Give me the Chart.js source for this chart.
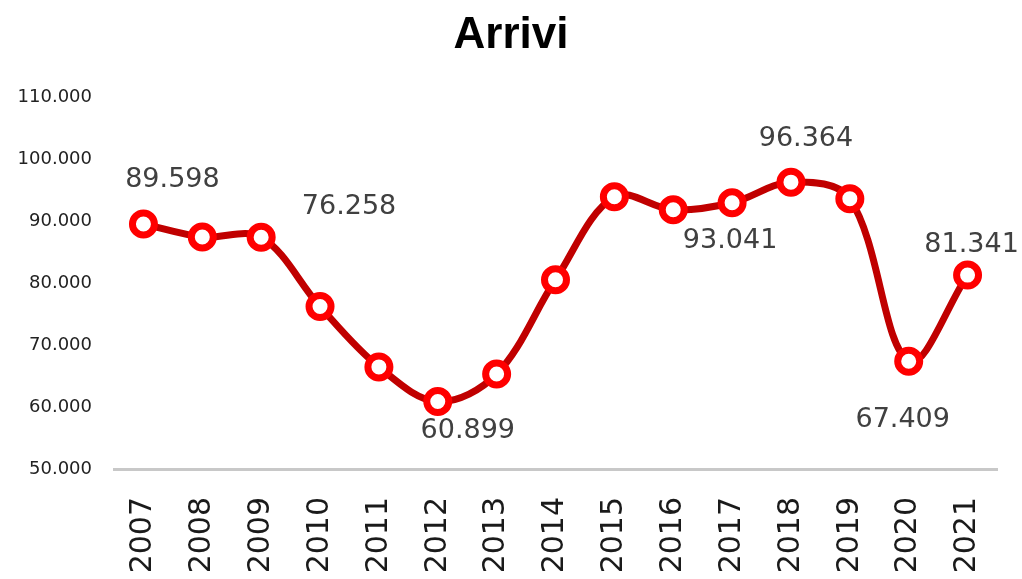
<!DOCTYPE html>
<html lang="it">
<head>
<meta charset="utf-8">
<title>Arrivi</title>
<script src="https://cdn.jsdelivr.net/npm/chart.js@4/dist/chart.umd.min.js"></script>
<style>
    html, body { margin: 0; padding: 0; background: #ffffff; }
    #contenitore { width: 1022px; height: 579px; position: relative; }
</style>
</head>
<body>
<div id="contenitore">
    <canvas id="chartArrivi"></canvas>
</div>
<script>
// Dati del grafico: arrivi per anno
var anni = ['2007', '2008', '2009', '2010', '2011', '2012', '2013', '2014',
            '2015', '2016', '2017', '2018', '2019', '2020', '2021'];
var arrivi = [89598, 87500, 87450, 76258, 66500, 60899, 65350, 80600,
              94000, 91900, 93041, 96364, 93700, 67409, 81341];

// Anni con l'etichetta del valore visibile
var anniEtichettati = ['2007', '2010', '2012', '2017', '2018', '2020', '2021'];

// Tacche asse Y
var yMin = 50000;
var yMax = 110000;
var yPasso = 10000;

// Spostamento delle etichette rispetto al punto (px)
var posEtichette = {
    '2007': [29, -44],
    '2010': [29, -100],
    '2012': [30, 29],
    '2017': [-2, 38],
    '2018': [15, -43],
    '2020': [-6, 59],
    '2021': [4, -30]
};

/**
 * Formatta un numero con il punto delle migliaia
 * @param {number} n
 */
function formatoMigliaia(n) {
    return Math.round(n).toString().replace(/\B(?=(\d{3})+(?!\d))/g, '.');
}

// Plugin per disegnare le etichette dei valori
var pluginEtichette = {
    id: 'etichetteValori',
    afterDatasetsDraw: function(chart) {
        var ctx = chart.ctx;
        var meta = chart.getDatasetMeta(0);
        ctx.save();
        ctx.font = '27px "DejaVu Sans"';
        ctx.fillStyle = '#404040';
        ctx.textAlign = 'center';
        ctx.textBaseline = 'middle';
        anni.forEach(function(anno, i) {
            if (anniEtichettati.indexOf(anno) === -1) return;
            var p = meta.data[i];
            var off = posEtichette[anno] || [0, -30];
            ctx.fillText(formatoMigliaia(arrivi[i]), p.x + off[0], p.y + off[1]);
        });
        ctx.restore();
    }
};

const ctxArrivi = document.getElementById('chartArrivi');
new Chart(ctxArrivi, {
    type: 'line',
    data: {
        labels: anni,
        datasets: [{
            label: 'Arrivi',
            data: arrivi,
            yAxisID: 'y',
            borderColor: '#c00000',
            borderWidth: 7,
            tension: 0.35,
            fill: false,
            pointRadius: 11,
            pointHoverRadius: 11,
            pointBorderWidth: 7,
            pointBorderColor: '#ff0000',
            pointBackgroundColor: '#ffffff'
        }]
    },
    options: {
        responsive: true,
        maintainAspectRatio: false,
        animation: false,
        layout: {
            padding: { left: 0, right: 0, top: 0, bottom: 0 }
        },
        plugins: {
            legend: { display: false },
            tooltip: { enabled: false },
            title: {
                display: true,
                text: 'Arrivi',
                color: '#000000',
                font: { family: '"Liberation Sans"', size: 44, weight: 'bold', lineHeight: 1.2 },
                padding: { top: 9, bottom: 36 }
            }
        },
        scales: {
            x: {
                offset: true,
                grid: { display: false, drawTicks: false },
                border: { display: true, color: '#c8c8c8', width: 3 },
                ticks: {
                    color: '#1a1a1a',
                    font: { family: '"DejaVu Sans"', size: 30, lineHeight: 0.7 },
                    minRotation: 90,
                    maxRotation: 90,
                    padding: 28,
                    autoSkip: false
                },
                afterFit: function(scale) { scale.height = 110; }
            },
            y: {
                min: yMin,
                max: yMax,
                grid: { display: false, drawTicks: false },
                border: { display: false },
                ticks: {
                    stepSize: yPasso,
                    color: '#222222',
                    font: { family: '"DejaVu Sans"', size: 18 },
                    padding: 22,
                    callback: function(v) { return formatoMigliaia(v); }
                },
                afterFit: function(scale) { scale.width = 114; }
            },
            // asse vuoto a destra, solo per il margine
            margineDx: {
                position: 'right',
                grid: { display: false, drawTicks: false },
                border: { display: false },
                ticks: { display: false },
                afterFit: function(scale) { scale.width = 25; }
            }
        }
    },
    plugins: [pluginEtichette]
});
</script>
</body>
</html>
